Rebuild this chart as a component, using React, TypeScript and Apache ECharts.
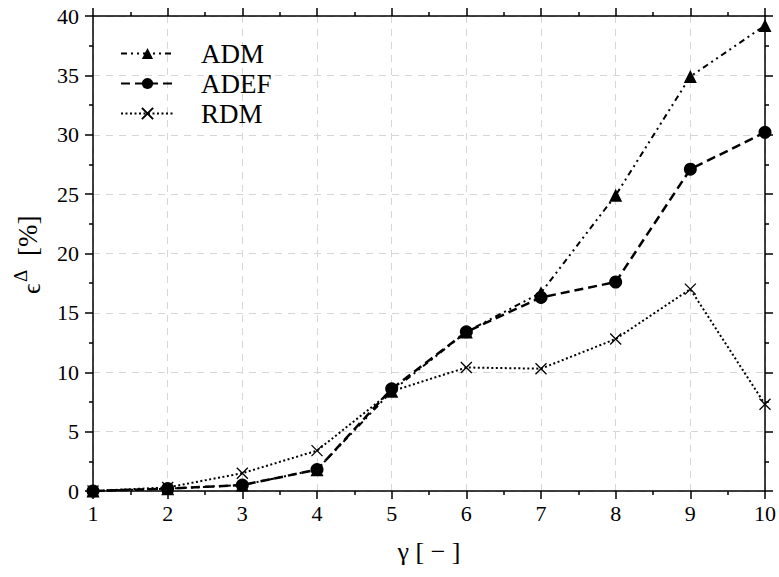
import React, { useEffect, useRef } from "react";
import * as echarts from "echarts";

const gammas = [1, 2, 3, 4, 5, 6, 7, 8, 9, 10];
const admValues = [0.0, 0.2, 0.5, 1.8, 8.4, 13.4, 16.7, 24.9, 34.9, 39.2];
const adefValues = [0.0, 0.2, 0.5, 1.8, 8.6, 13.4, 16.3, 17.6, 27.1, 30.2];
const rdmValues = [0.0, 0.3, 1.5, 3.4, 8.4, 10.4, 10.3, 12.8, 17.0, 7.3];
const seriesNames = ["ADM", "ADEF", "RDM"];

const FONT = "Liberation Serif";

const pairs = (vals: number[]) => gammas.map((g, i) => [g, vals[i]]);

export default function App() {
  const ref = useRef<HTMLDivElement>(null);
  useEffect(() => {
    if (!ref.current) return;
    const chart = echarts.init(ref.current, null, { renderer: "svg" });
    const axisLine = { show: true, onZero: false, lineStyle: { color: "#000", width: 1.5 } };
    const axisTick = { show: true, inside: false, length: 8, lineStyle: { color: "#000", width: 1.5 } };
    const minorTick = { show: true, splitNumber: 2, length: 4, lineStyle: { color: "#000", width: 1.5 } };
    const splitLine = { show: true, lineStyle: { color: "#d6d6d6", type: [7, 6], width: 1 } };
    const option: any = {
      animation: false,
      backgroundColor: "#fff",
      grid: { left: 93, right: 11, top: 16, bottom: 86, containLabel: false },
      legend: {
        show: true,
        orient: "vertical",
        left: 120,
        top: 40,
        padding: 0,
        itemWidth: 53,
        itemHeight: 14,
        itemGap: 3,
        data: seriesNames,
        textStyle: { fontFamily: FONT, fontSize: 27, color: "#000", padding: [0, 0, 0, 22], lineHeight: 26 },
      },
      xAxis: [
        {
          type: "value",
          min: 1,
          max: 10,
          interval: 1,
          position: "bottom",
          axisLine,
          axisTick,
          minorTick,
          splitLine,
          axisLabel: { color: "#000", fontFamily: FONT, fontSize: 22, margin: 11 },
          name: "γ [ − ]",
          nameLocation: "middle",
          nameGap: 47,
          nameTextStyle: { color: "#000", fontFamily: FONT, fontSize: 26 },
        },
        {
          type: "value",
          min: 1,
          max: 10,
          interval: 1,
          position: "top",
          axisLine,
          axisTick,
          minorTick,
          splitLine: { show: false },
          axisLabel: { show: false },
        },
      ],
      yAxis: [
        {
          type: "value",
          min: 0,
          max: 40,
          interval: 5,
          position: "left",
          axisLine,
          axisTick,
          minorTick,
          splitLine,
          axisLabel: { color: "#000", fontFamily: FONT, fontSize: 22, margin: 14 },
        },
        {
          type: "value",
          min: 0,
          max: 40,
          interval: 5,
          position: "right",
          axisLine,
          axisTick,
          minorTick,
          splitLine: { show: false },
          axisLabel: { show: false },
        },
      ],
      graphic: [
        {
          type: "group",
          x: 28,
          y: 250,
          rotation: Math.PI / 2,
          children: [
            {
              type: "text",
              x: -44,
              y: 3,
              style: { text: "ϵ", font: `26px ${FONT}`, fill: "#000", align: "left", verticalAlign: "middle" },
            },
            {
              type: "text",
              x: -32,
              y: -8,
              style: { text: "Δ", font: `19px ${FONT}`, fill: "#000", align: "left", verticalAlign: "middle" },
            },
            {
              type: "text",
              x: -6,
              y: 0,
              style: { text: "[%]", font: `27px ${FONT}`, fill: "#000", align: "left", verticalAlign: "middle" },
            },
          ],
        },
      ],
      series: [
        {
          name: seriesNames[0],
          type: "line",
          xAxisIndex: 0,
          yAxisIndex: 0,
          data: pairs(admValues),
          symbol: "triangle",
          symbolSize: 13,
          showSymbol: true,
          itemStyle: { color: "#000" },
          lineStyle: { color: "#000", width: 2, type: [6, 4, 2, 4, 2, 4] },
          z: 3,
        },
        {
          name: seriesNames[1],
          type: "line",
          xAxisIndex: 0,
          yAxisIndex: 0,
          data: pairs(adefValues),
          symbol: "circle",
          symbolSize: 13,
          itemStyle: { color: "#000" },
          lineStyle: { color: "#000", width: 2.5, type: [9, 5] },
          z: 3,
        },
        {
          name: seriesNames[2],
          type: "line",
          xAxisIndex: 0,
          yAxisIndex: 0,
          data: pairs(rdmValues),
          symbol: "path://M0,0L10,10M10,0L0,10",
          symbolSize: 11,
          itemStyle: { color: "none", borderColor: "#000", borderWidth: 1.3 },
          lineStyle: { color: "#000", width: 2, type: [2, 2.5] },
          z: 3,
        },
      ],
    };
    chart.setOption(option);
    return () => chart.dispose();
  }, []);
  return <div ref={ref} style={{ width: 779, height: 577, position: "absolute", left: 0, top: 0 }} />;
}
